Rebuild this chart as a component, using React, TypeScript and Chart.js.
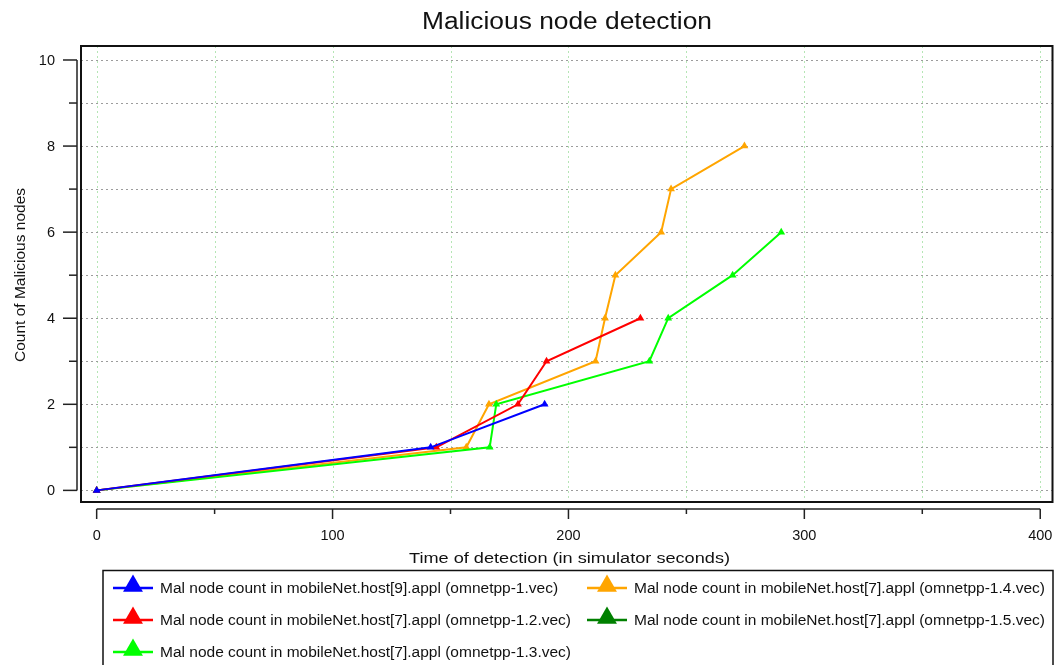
import React, { useEffect, useRef } from "react";
import { Chart, registerables } from "chart.js";

Chart.register(...registerables);

// ---- data ----
const blueX = [0, 141.6, 189.9];
const blueY = [0, 1, 2];
const redX = [0, 144.0, 178.6, 190.7, 230.5];
const redY = [0, 1, 2, 3, 4];
const limeX = [0, 166.6, 169.4, 234.3, 242.3, 269.6, 290.2];
const limeY = [0, 1, 2, 3, 4, 5, 6];
const orangeX = [0, 156.7, 166.3, 211.5, 215.5, 219.9, 239.3, 243.5, 274.6];
const orangeY = [0, 1, 2, 3, 4, 5, 6, 7, 8];
const darkGreenX: number[] = [];
const darkGreenY: number[] = [];

const seriesLabels = [
  "Mal node count in mobileNet.host[9].appl (omnetpp-1.vec)",
  "Mal node count in mobileNet.host[7].appl (omnetpp-1.2.vec)",
  "Mal node count in mobileNet.host[7].appl (omnetpp-1.3.vec)",
  "Mal node count in mobileNet.host[7].appl (omnetpp-1.4.vec)",
  "Mal node count in mobileNet.host[7].appl (omnetpp-1.5.vec)",
];
const seriesColors = ["#0000ff", "#ff0000", "#00ff00", "#ffa500", "#008000"];

const xTicks = [0, 100, 200, 300, 400];
const xMinorTicks = [50, 150, 250, 350];
const yTicks = [0, 2, 4, 6, 8, 10];
const yMinorTicks = [1, 3, 5, 7, 9];
const xGrid = [0, 50, 100, 150, 200, 250, 300, 350, 400];
const yGrid = [0, 1, 2, 3, 4, 5, 6, 7, 8, 9, 10];

const titleText = "Malicious node detection";
const xTitle = "Time of detection (in simulator seconds)";
const yTitle = "Count of Malicious nodes";

const FONT = '"Liberation Sans", Arial, sans-serif';

function zip(xs: number[], ys: number[]) {
  return xs.map((x, i) => ({ x, y: ys[i] }));
}

function fitText(ctx: CanvasRenderingContext2D, text: string, cx: number, baseY: number, size: number, width: number) {
  ctx.save();
  ctx.font = `${size}px ${FONT}`;
  const w = ctx.measureText(text).width;
  const sx = width / w;
  ctx.translate(cx, baseY);
  ctx.scale(sx, 1);
  ctx.textAlign = "center";
  ctx.textBaseline = "alphabetic";
  ctx.fillText(text, 0, 0);
  ctx.restore();
}

function triangle(ctx: CanvasRenderingContext2D, x: number, y: number, r: number) {
  ctx.beginPath();
  for (let i = 0; i < 3; i++) {
    const a = -Math.PI / 2 + (i * 2 * Math.PI) / 3;
    const px = x + Math.cos(a) * r;
    const py = y + Math.sin(a) * r;
    if (i === 0) ctx.moveTo(px, py);
    else ctx.lineTo(px, py);
  }
  ctx.closePath();
  ctx.fill();
}

const decorPlugin = {
  id: "decor",
  beforeDatasetsDraw(chart: any) {
    const ctx: CanvasRenderingContext2D = chart.ctx;
    const { left, right, top, bottom } = chart.chartArea;
    const xs = chart.scales.x;
    const ys = chart.scales.y;
    ctx.save();
    ctx.lineWidth = 1;
    ctx.setLineDash([2, 3]);
    // vertical grid
    ctx.strokeStyle = "#b5e6b5";
    xGrid.forEach((v) => {
      const px = Math.round(xs.getPixelForValue(v)) + 0.5;
      ctx.beginPath();
      ctx.moveTo(px, top);
      ctx.lineTo(px, bottom);
      ctx.stroke();
    });
    // horizontal grid
    ctx.strokeStyle = "#9c9c9c";
    yGrid.forEach((v) => {
      const py = Math.round(ys.getPixelForValue(v)) + 0.5;
      ctx.beginPath();
      ctx.moveTo(left, py);
      ctx.lineTo(right, py);
      ctx.stroke();
    });
    ctx.restore();
  },
  afterDraw(chart: any) {
    const ctx: CanvasRenderingContext2D = chart.ctx;
    const { left, right, top, bottom } = chart.chartArea;
    const xs = chart.scales.x;
    const ys = chart.scales.y;
    ctx.save();
    ctx.setLineDash([]);
    // frame
    ctx.strokeStyle = "#111";
    ctx.lineWidth = 2;
    ctx.strokeRect(left, top, right - left, bottom - top);

    // y axis
    const ax = left - 4;
    ctx.lineWidth = 1.5;
    ctx.strokeStyle = "#222";
    ctx.beginPath();
    ctx.moveTo(ax, ys.getPixelForValue(0));
    ctx.lineTo(ax, ys.getPixelForValue(10));
    ctx.stroke();
    ctx.fillStyle = "#111";
    ctx.font = `14.5px ${FONT}`;
    ctx.textAlign = "right";
    ctx.textBaseline = "middle";
    yTicks.forEach((v) => {
      const py = ys.getPixelForValue(v);
      ctx.beginPath();
      ctx.moveTo(ax - 14, py);
      ctx.lineTo(ax, py);
      ctx.stroke();
      ctx.fillText(String(v), ax - 22, py + 1);
    });
    yMinorTicks.forEach((v) => {
      const py = ys.getPixelForValue(v);
      ctx.beginPath();
      ctx.moveTo(ax - 8, py);
      ctx.lineTo(ax, py);
      ctx.stroke();
    });

    // x axis
    const ay = bottom + 7;
    ctx.beginPath();
    ctx.moveTo(xs.getPixelForValue(0), ay);
    ctx.lineTo(xs.getPixelForValue(400), ay);
    ctx.stroke();
    ctx.textAlign = "center";
    ctx.textBaseline = "alphabetic";
    xTicks.forEach((v) => {
      const px = xs.getPixelForValue(v);
      ctx.beginPath();
      ctx.moveTo(px, ay);
      ctx.lineTo(px, ay + 10);
      ctx.stroke();
      ctx.fillText(String(v), px, 539.5);
    });
    xMinorTicks.forEach((v) => {
      const px = xs.getPixelForValue(v);
      ctx.beginPath();
      ctx.moveTo(px, ay);
      ctx.lineTo(px, ay + 5);
      ctx.stroke();
    });

    // titles
    ctx.fillStyle = "#111";
    fitText(ctx, titleText, 567, 29, 23, 290);
    fitText(ctx, xTitle, 569.5, 562.5, 15.5, 321);
    ctx.save();
    ctx.translate(24.5, 275);
    ctx.rotate(-Math.PI / 2);
    ctx.font = `15.5px ${FONT}`;
    ctx.textAlign = "center";
    ctx.textBaseline = "alphabetic";
    ctx.fillText(yTitle, 0, 0);
    ctx.restore();

    // legend
    ctx.strokeStyle = "#111";
    ctx.lineWidth = 1.5;
    ctx.strokeRect(103, 570.5, 950, 120);
    const cols = [113, 587];
    const rows = [588, 620, 652];
    ctx.font = `15.5px ${FONT}`;
    ctx.textAlign = "left";
    ctx.textBaseline = "middle";
    seriesLabels.forEach((lab, i) => {
      const c = Math.floor(i / 3);
      const r = i % 3;
      const x0 = cols[c];
      const y0 = rows[r];
      ctx.strokeStyle = seriesColors[i];
      ctx.lineWidth = 2.5;
      ctx.beginPath();
      ctx.moveTo(x0, y0);
      ctx.lineTo(x0 + 40, y0);
      ctx.stroke();
      ctx.fillStyle = seriesColors[i];
      triangle(ctx, x0 + 20, y0 - 2, 11.5);
      ctx.fillStyle = "#111";
      ctx.fillText(lab, x0 + 47, y0 + 1);
    });
    ctx.restore();
  },
};

export default function App() {
  const ref = useRef<HTMLCanvasElement>(null);
  useEffect(() => {
    if (!ref.current) return;
    const xsData = [blueX, redX, limeX, orangeX, darkGreenX];
    const ysData = [blueY, redY, limeY, orangeY, darkGreenY];
    const chart = new Chart(ref.current, {
      type: "scatter",
      data: {
        datasets: seriesLabels.map((lab, i) => ({
          label: lab,
          data: zip(xsData[i], ysData[i]),
          showLine: true,
          borderColor: seriesColors[i],
          backgroundColor: seriesColors[i],
          borderWidth: 2,
          pointStyle: "triangle",
          pointRadius: 4.5,
          pointBorderWidth: 0,
          tension: 0,
        })),
      },
      options: {
        animation: false,
        responsive: false,
        layout: { padding: { left: 81, top: 46, right: 2, bottom: 163 } },
        plugins: { legend: { display: false }, title: { display: false }, tooltip: { enabled: false } },
        scales: {
          x: { type: "linear", min: -6.64, max: 405.2, display: false },
          y: { type: "linear", min: -0.27, max: 10.325, display: false },
        },
      },
      plugins: [decorPlugin],
    });
    return () => chart.destroy();
  }, []);
  return (
    <div style={{ position: "fixed", left: 0, top: 0, width: 1057, height: 665, background: "#fff" }}>
      <canvas ref={ref} width={1057} height={665} style={{ display: "block", width: 1057, height: 665 }} />
    </div>
  );
}
